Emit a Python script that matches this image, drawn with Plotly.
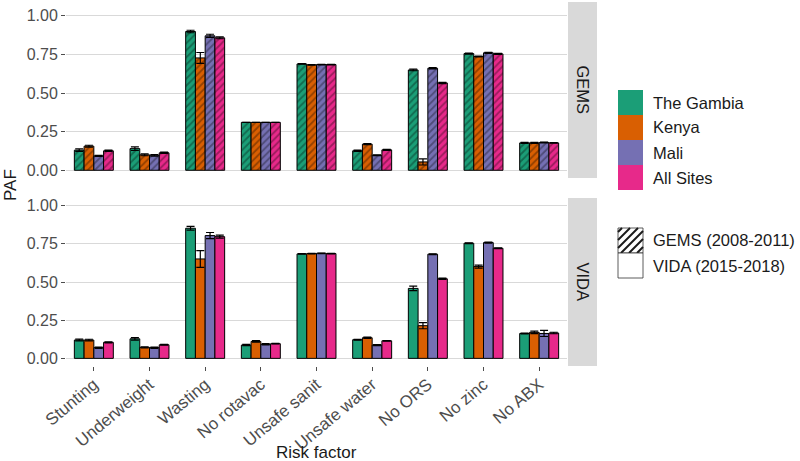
import plotly.graph_objects as go
from plotly.subplots import make_subplots

risk = ["Stunting", "Underweight", "Wasting", "No rotavac", "Unsafe sanit",
        "Unsafe water", "No ORS", "No zinc", "No ABX"]
sites = ["The Gambia", "Kenya", "Mali", "All Sites"]
colors = ["#1B9E77", "#D95F02", "#7570B3", "#E7298A"]

# GEMS (2008-2011)
gems_gambia = [0.130, 0.140, 0.898, 0.310, 0.688, 0.126, 0.649, 0.755, 0.177]
gems_kenya = [0.156, 0.100, 0.727, 0.310, 0.682, 0.169, 0.054, 0.736, 0.177]
gems_mali = [0.093, 0.097, 0.870, 0.310, 0.684, 0.097, 0.660, 0.760, 0.180]
gems_all = [0.126, 0.113, 0.857, 0.310, 0.684, 0.132, 0.565, 0.753, 0.177]
gems_err_gambia = [0.008, 0.012, 0.008, 0.0, 0.002, 0.004, 0.005, 0.003, 0.003]
gems_err_kenya = [0.006, 0.006, 0.035, 0.0, 0.002, 0.004, 0.020, 0.003, 0.003]
gems_err_mali = [0.004, 0.005, 0.010, 0.0, 0.002, 0.003, 0.004, 0.003, 0.003]
gems_err_all = [0.004, 0.004, 0.006, 0.0, 0.002, 0.003, 0.004, 0.003, 0.002]

# VIDA (2015-2018)
vida_gambia = [0.120, 0.128, 0.852, 0.087, 0.684, 0.122, 0.458, 0.754, 0.163]
vida_kenya = [0.120, 0.072, 0.651, 0.111, 0.686, 0.135, 0.214, 0.601, 0.170]
vida_mali = [0.070, 0.070, 0.804, 0.092, 0.688, 0.087, 0.682, 0.758, 0.163]
vida_all = [0.105, 0.089, 0.797, 0.096, 0.686, 0.115, 0.521, 0.721, 0.166]
vida_err_gambia = [0.006, 0.008, 0.012, 0.004, 0.002, 0.003, 0.015, 0.003, 0.003]
vida_err_kenya = [0.005, 0.004, 0.055, 0.005, 0.002, 0.004, 0.020, 0.010, 0.008]
vida_err_mali = [0.004, 0.004, 0.020, 0.004, 0.002, 0.003, 0.003, 0.003, 0.020]
vida_err_all = [0.003, 0.003, 0.010, 0.002, 0.002, 0.002, 0.004, 0.003, 0.005]

gems = [gems_gambia, gems_kenya, gems_mali, gems_all]
gems_err = [gems_err_gambia, gems_err_kenya, gems_err_mali, gems_err_all]
vida = [vida_gambia, vida_kenya, vida_mali, vida_all]
vida_err = [vida_err_gambia, vida_err_kenya, vida_err_mali, vida_err_all]

W, H = 800, 461
FONT = "Liberation Sans, Arial, sans-serif"


def px(x):
    return x / W


def py(y):
    return 1 - y / H


fig = make_subplots(rows=2, cols=1, shared_xaxes=True)

for row, (vals, errs, hatched) in enumerate([(gems, gems_err, True), (vida, vida_err, False)], start=1):
    for site, col, v, e in zip(sites, colors, vals, errs):
        pattern = dict(shape="/", fgcolor="rgba(0,0,0,0.65)", bgcolor=col,
                       fillmode="overlay", size=5, solidity=0.35) if hatched else dict(shape="")
        fig.add_trace(go.Bar(
            x=risk, y=v, name=site, showlegend=False,
            marker=dict(color=col, line=dict(color="black", width=1), pattern=pattern),
            error_y=dict(type="data", array=e, color="black", thickness=1.2, width=4),
        ), row=row, col=1)

fig.update_layout(
    width=W, height=H,
    margin=dict(l=0, r=0, t=0, b=0),
    plot_bgcolor="white", paper_bgcolor="white",
    barmode="group", bargap=0.3, bargroupgap=0,
    font=dict(family=FONT, size=16.5, color="#1a1a1a"),
)

yax = dict(range=[-0.05, 1.05], tickvals=[0, 0.25, 0.5, 0.75, 1.0], tickformat=".2f",
           showgrid=True, gridcolor="#d9d9d9", gridwidth=1, zeroline=False,
           ticks="outside", ticklen=4, tickcolor="#4d4d4d", tickwidth=1,
           tickfont=dict(size=16, color="#4d4d4d"), showline=False, automargin=False)
fig.update_yaxes(**yax)
fig.update_yaxes(domain=[py(178), py(8)], row=1, col=1)
fig.update_yaxes(domain=[py(366), py(198)], row=2, col=1)

fig.update_xaxes(domain=[px(66), px(567)], showgrid=False, zeroline=False, showline=False,
                 automargin=False)
fig.update_xaxes(showticklabels=False, row=1, col=1)
fig.update_xaxes(ticks="outside", ticklen=4, tickcolor="#4d4d4d", tickangle=-40,
                 ticklabelstandoff=-3,
                 tickfont=dict(size=17, color="#4d4d4d"), row=2, col=1)

shapes = []
annotations = []


def label(text, x, y, xanchor="center", angle=0, size=None):
    d = dict(text=text, xref="paper", yref="paper", x=px(x), y=py(y),
             xanchor=xanchor, yanchor="middle", showarrow=False, textangle=angle)
    if size:
        d["font"] = dict(size=size)
    return d


# facet strips
for name, top, bot in [("GEMS", 2, 178), ("VIDA", 198, 366)]:
    shapes.append(dict(type="rect", xref="paper", yref="paper", x0=px(568), x1=px(597),
                       y0=py(bot), y1=py(top), fillcolor="#d9d9d9", line=dict(width=0), layer="below"))
    annotations.append(label(name, 582.5, (top + bot) / 2, angle=90))

# axis titles
annotations.append(label("PAF", 10, 185, angle=-90, size=17))
annotations.append(label("Risk factor", 316, 452, size=17))

# legend: sites
kx0, kx1 = 618, 643
for i, (site, col) in enumerate(zip(sites, colors)):
    y0 = 90 + i * 25
    shapes.append(dict(type="rect", xref="paper", yref="paper", x0=px(kx0), x1=px(kx1),
                       y0=py(y0 + 25), y1=py(y0), fillcolor=col, line=dict(width=0)))
    annotations.append(label(site, 651, y0 + 12.5, xanchor="left"))

# legend: study
for i, name in enumerate(["GEMS (2008-2011)", "VIDA (2015-2018)"]):
    y0 = 228 + i * 25
    shapes.append(dict(type="rect", xref="paper", yref="paper", x0=px(kx0), x1=px(kx1),
                       y0=py(y0 + 25), y1=py(y0), fillcolor="white",
                       line=dict(color="#333333", width=0.8)))
    annotations.append(label(name, 651, y0 + 12.5, xanchor="left"))
    if i == 0:
        size = kx1 - kx0
        for a in range(kx0 - size + 4, kx1, 8):
            t0 = max(0, kx0 - a)
            t1 = min(size, kx1 - a)
            if t1 <= t0:
                continue
            shapes.append(dict(type="line", xref="paper", yref="paper",
                               x0=px(a + t0), y0=py(y0 + size - t0),
                               x1=px(a + t1), y1=py(y0 + size - t1),
                               line=dict(color="#1a1a1a", width=2)))

fig.update_layout(shapes=shapes, annotations=annotations)

fig.write_html("out.html", config={"displayModeBar": False},
               post_script="document.body.style.margin='0px';")
